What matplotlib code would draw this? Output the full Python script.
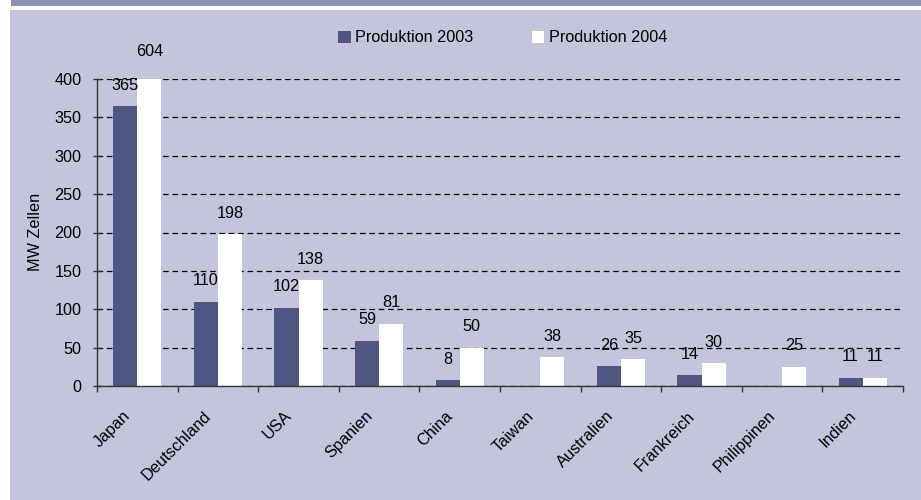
"""Solarzellen-Produktion 2003/2004 nach Ländern (MW)."""

import matplotlib
matplotlib.use("Agg")
import matplotlib.pyplot as plt
import matplotlib.patches as mpatches
import numpy as np

# ---------------------------------------------------------------------------
# Data
# ---------------------------------------------------------------------------
countries = ["Japan", "Deutschland", "USA", "Spanien", "China", "Taiwan",
             "Australien", "Frankreich", "Philippinen", "Indien"]
prod_2003 = [365, 110, 102, 59, 8, None, 26, 14, None, 11]
prod_2004 = [604, 198, 138, 81, 50, 38, 35, 30, 25, 11]
y_ticks = [0, 50, 100, 150, 200, 250, 300, 350, 400]

BG = "#C4C5DC"
BAND = "#8E91B6"
DARK = "#4F5681"
W, H = 921, 500
FS = 11.7

plt.rcParams["font.family"] = ["Liberation Sans", "DejaVu Sans"]

fig = plt.figure(figsize=(W / 100, H / 100), dpi=100, facecolor="white")

# ── Frame: top band + lavender panel ───────────────────────────────────────
fig.patches.append(mpatches.Rectangle((11 / W, 1 - 6 / H), 1, 6 / H,
                                      transform=fig.transFigure,
                                      facecolor=BAND, edgecolor="none", zorder=-2))
fig.patches.append(mpatches.Rectangle((10 / W, 0), 1, 1 - 10 / H,
                                      transform=fig.transFigure,
                                      facecolor=BG, edgecolor="none", zorder=-2))

ax = fig.add_axes([97 / W, 1 - 386 / H, (903 - 97) / W, (386 - 79) / H])
ax.patch.set_alpha(0)

x = np.arange(len(countries))
bw = 0.3
ymax = y_ticks[-1]

v03 = [0 if v is None else v for v in prod_2003]
ax.bar(x - bw / 2, v03, bw, color=DARK, label="Produktion 2003", zorder=3)
ax.bar(x + bw / 2, prod_2004, bw, color="white", label="Produktion 2004", zorder=3)

# ── Value labels ────────────────────────────────────────────────────────────
for xs, vals in ((x - bw / 2, prod_2003), (x + bw / 2, prod_2004)):
    for xi, v in zip(xs, vals):
        if v is None:
            continue
        top = min(v, ymax)
        off = 19.5 if v > ymax else 15
        ax.annotate(f"{v}", (xi, top), xytext=(0, off), textcoords="offset points",
                    ha="center", va="center", fontsize=FS, color="black",
                    annotation_clip=False, zorder=4)

# ── Axes styling ────────────────────────────────────────────────────────────
ax.set_xlim(-0.5, len(countries) - 0.5)
ax.set_ylim(0, ymax)
ax.set_yticks(y_ticks)
ax.yaxis.grid(True, color="black", linestyle=(0, (4.5, 3.0)), linewidth=0.9)
ax.set_axisbelow(True)

# label anchors sit a little left of the category centre (Excel-style)
ax.set_xticks(x - 0.18)
ax.set_xticklabels(countries, rotation=45, ha="right", va="top",
                   rotation_mode="anchor", fontsize=FS)
ax.set_xticks(np.arange(len(countries) + 1) - 0.5, minor=True)
ax.tick_params(axis="x", which="major", length=0, pad=16)
ax.tick_params(axis="x", which="minor", length=4, direction="out",
               color="#333333", width=1)
ax.tick_params(axis="y", length=6, direction="inout", color="#333333",
               width=1, labelsize=FS, pad=8)

for side in ("top", "right"):
    ax.spines[side].set_visible(False)
for side in ("left", "bottom"):
    ax.spines[side].set_color("#333333")
    ax.spines[side].set_linewidth(1)
    ax.spines[side].set_zorder(5)

fig.text(35 / W, 1 - 232 / H, "MW Zellen", rotation=90, ha="center",
         va="center", fontsize=FS)

fig.legend(loc="center", bbox_to_anchor=(503 / W, 1 - 38 / H), ncol=2,
           frameon=False, fontsize=FS, handlelength=0.75, handleheight=0.75,
           handletextpad=0.3, columnspacing=3.6, borderaxespad=0)

fig.savefig("out.png", dpi=100, facecolor=fig.get_facecolor())
